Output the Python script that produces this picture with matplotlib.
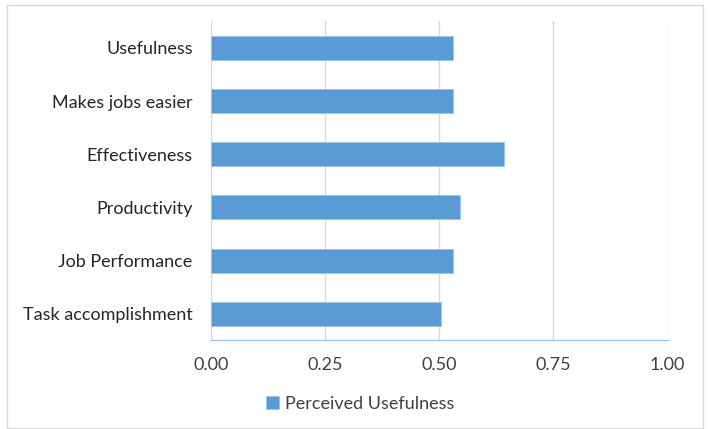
import matplotlib as mpl
mpl.use('Agg')
import matplotlib.pyplot as plt
from matplotlib.patches import Rectangle

categories = ['Task accomplishment', 'Job Performance', 'Productivity',
              'Effectiveness', 'Makes jobs easier', 'Usefulness']
values = [0.503, 0.531, 0.545, 0.642, 0.531, 0.531]
xticks = [0.0, 0.25, 0.5, 0.75, 1.0]
series_name = 'Perceived Usefulness'

plt.rcParams['font.family'] = ['Lato', 'DejaVu Sans']
plt.rcParams['font.size'] = 13

fig = plt.figure(figsize=(7.10, 4.29), dpi=100)
ax = fig.add_axes([210.7/710, 1-340.3/429, 457/710, (340.3-21.4)/429])

ax.barh(range(len(categories)), values, height=0.45, color='#5B9BD5',
        edgecolor='#9DC3E6', linewidth=0.6, label=series_name, zorder=3)
ax.set_ylim(-0.5, len(categories)-0.5)
ax.set_xlim(0, 1)
ax.set_xticks(xticks)
ax.set_xticklabels(['%.2f' % t for t in xticks], color='#404040')
ax.set_yticks(range(len(categories)))
ax.set_yticklabels(categories, color='#262626')
ax.tick_params(axis='both', length=0)
ax.tick_params(axis='y', pad=13)
ax.tick_params(axis='x', pad=12)
ax.grid(axis='x', color='#D9D9D9', lw=1, zorder=0)
for s in ['top', 'right', 'left']:
    ax.spines[s].set_visible(False)
ax.spines['bottom'].set_color('#9DC3E6')
ax.spines['bottom'].set_linewidth(1)

leg = fig.legend(loc='center', bbox_to_anchor=(360/710, 1-404/429), frameon=False,
                 handlelength=0.75, handleheight=0.75, handletextpad=0.3, fontsize=13)
for t in leg.get_texts():
    t.set_color('#404040')

fig.patches.append(Rectangle((7/710, 1/429), 696/710, 423/429, transform=fig.transFigure,
                             fill=False, edgecolor='#D9D9D9', lw=1))

fig.savefig('out.png', dpi=100)
plt.close()
